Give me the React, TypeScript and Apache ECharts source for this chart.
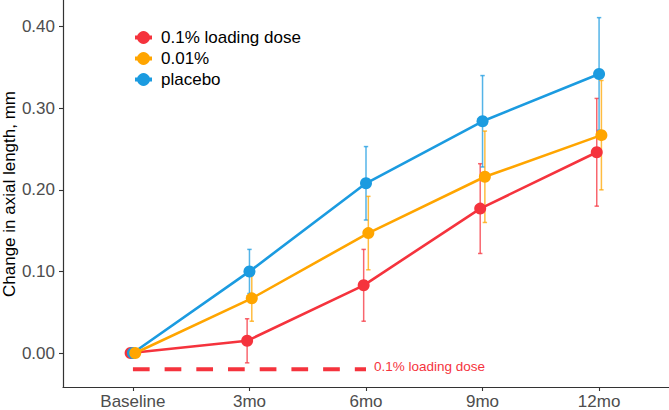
import React, { useEffect, useRef } from "react";
import * as echarts from "echarts";

const categories = ["Baseline", "3mo", "6mo", "9mo", "12mo"];
const groupNames = ["0.1% loading dose", "0.01%", "placebo"];
const groupColors = ["#F5333D", "#FFA500", "#1B9BE0"];
const loadingMean = [0, 0.015, 0.083, 0.177, 0.246];
const loadingErr = [0, 0.027, 0.044, 0.055, 0.066];
const lowDoseMean = [0, 0.067, 0.147, 0.216, 0.267];
const lowDoseErr = [0, 0.028, 0.045, 0.056, 0.067];
const placeboMean = [0, 0.1, 0.208, 0.284, 0.342];
const placeboErr = [0, 0.027, 0.045, 0.056, 0.069];
const dodge = [-0.02, 0.02, 0];
const yTicks = [0, 0.1, 0.2, 0.3, 0.4];
const xTicks = [0, 1, 2, 3, 4];
const refLineValue = -0.02;
const refLineRange = [0, 2];
const refLineLabel = "0.1% loading dose";
const yTitle = "Change in axial length, mm";

const FONT = "'Liberation Sans', Arial, Helvetica, sans-serif";

export default function App() {
  const ref = useRef<HTMLDivElement>(null);
  useEffect(() => {
    if (!ref.current) return;
    const chart = echarts.init(ref.current, undefined, { renderer: "svg" });
    const means = [loadingMean, lowDoseMean, placeboMean];
    const errs = [loadingErr, lowDoseErr, placeboErr];
    // draw order: red, blue, orange (orange on top)
    const order = [0, 2, 1];
    const series: any[] = [];
    order.forEach((g) => {
      series.push({
        type: "custom",
        name: groupNames[g] + " err",
        z: 1,
        silent: true,
        data: means[g]
          .map((m, i) => [i + dodge[g], m - errs[g][i], m + errs[g][i]])
          .filter((d, i) => errs[g][i] > 0),
        encode: { x: 0, y: [1, 2] },
        renderItem: (params: any, api: any) => {
          const x = api.value(0);
          const lo = api.coord([x, api.value(1)]);
          const hi = api.coord([x, api.value(2)]);
          const w = 2.2;
          const style = { stroke: groupColors[g], lineWidth: 1.5, opacity: 0.75 };
          return {
            type: "group",
            children: [
              { type: "line", shape: { x1: lo[0], y1: lo[1], x2: hi[0], y2: hi[1] }, style },
              { type: "line", shape: { x1: lo[0] - w, y1: lo[1], x2: lo[0] + w, y2: lo[1] }, style },
              { type: "line", shape: { x1: hi[0] - w, y1: hi[1], x2: hi[0] + w, y2: hi[1] }, style },
            ],
          };
        },
      });
    });
    order.forEach((g) => {
      series.push({
        type: "line",
        name: groupNames[g],
        z: 2,
        data: means[g].map((m, i) => [i + dodge[g], m]),
        symbol: "circle",
        symbolSize: 12,
        showSymbol: true,
        itemStyle: { color: groupColors[g] },
        lineStyle: { color: groupColors[g], width: 2.6 },
      });
    });
    series.push({
      type: "line",
      name: "ref",
      z: 1,
      silent: true,
      data: refLineRange.map((x) => [x, refLineValue]),
      symbol: "none",
      lineStyle: { color: "#F5333D", width: 4, type: [16.7, 15] },
      endLabel: {
        show: true,
        formatter: refLineLabel,
        color: "#F5333D",
        fontSize: 13.5,
        fontFamily: FONT,
        distance: 8,
        offset: [0, -3],
      },
    });

    chart.setOption({
      animation: false,
      grid: { left: 63, right: 0, top: 0, bottom: 19 },
      legend: {
        data: groupNames,
        orient: "vertical",
        left: 128,
        top: 24,
        itemWidth: 17,
        itemHeight: 16,
        itemGap: 4,
        lineStyle: { width: 4 },
        textStyle: { fontSize: 17, color: "#000", fontFamily: FONT, padding: [0, 0, 0, 4] },
      },
      xAxis: {
        type: "value",
        min: -0.6,
        max: 4.6,
        axisLine: { show: true, onZero: false, lineStyle: { color: "#333", width: 1.2 } },
        axisTick: { show: true, length: 4, lineStyle: { color: "#333", width: 1.1 }, customValues: xTicks },
        axisLabel: {
          customValues: xTicks,
          formatter: (v: number) => categories[Math.round(v)] ?? "",
          color: "#4D4D4D",
          fontSize: 17,
          fontFamily: FONT,
          margin: 6,
        },
        splitLine: { show: false },
      },
      yAxis: {
        type: "value",
        min: -0.0416,
        max: 0.4326,
        axisLine: { show: true, onZero: false, lineStyle: { color: "#333", width: 1.2 } },
        axisTick: { show: true, length: 4, lineStyle: { color: "#333", width: 1.1 }, customValues: yTicks },
        axisLabel: {
          customValues: yTicks,
          formatter: (v: number) => v.toFixed(2),
          color: "#4D4D4D",
          fontSize: 17,
          fontFamily: FONT,
          margin: 8,
        },
        splitLine: { show: false },
      },
      graphic: [
        {
          type: "text",
          x: 9,
          y: 194,
          rotation: Math.PI / 2,
          style: {
            text: yTitle,
            fontSize: 17,
            fontFamily: FONT,
            fill: "#000",
            textAlign: "center",
            textVerticalAlign: "middle",
          },
        },
      ],
      series,
    });
    return () => chart.dispose();
  }, []);
  return (
    <div
      ref={ref}
      style={{ position: "fixed", left: 0, top: 0, width: 669, height: 410, background: "#fff" }}
    />
  );
}
